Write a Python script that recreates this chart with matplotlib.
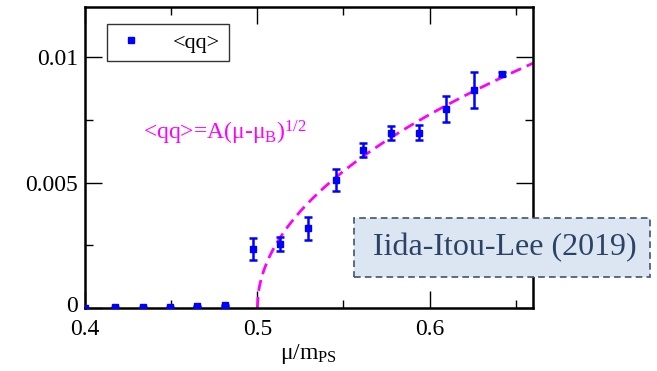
import numpy as np
import matplotlib
matplotlib.use('Agg')
import matplotlib.pyplot as plt
import matplotlib.transforms as mtransforms
from matplotlib.lines import Line2D
from matplotlib.patches import Rectangle

plt.rcParams['font.family'] = ['Liberation Serif', 'DejaVu Serif']
plt.rcParams['mathtext.fontset'] = 'custom'
plt.rcParams['mathtext.rm'] = 'Liberation Serif'
plt.rcParams['mathtext.it'] = 'Liberation Serif'

# data
mu = [0.400, 0.4174, 0.4334, 0.4493, 0.4651, 0.4812, 0.4972, 0.5130,
      0.5294, 0.5455, 0.5613, 0.5774, 0.5936, 0.6097, 0.6257, 0.6419]
qq = [0.0, 0.00003, 0.00003, 0.00003, 0.00007, 0.0001, 0.00235, 0.00256,
      0.00318, 0.0051, 0.00631, 0.00698, 0.00698, 0.00793, 0.00871, 0.00935]
qq_err = [0.00002, 0.00002, 0.00002, 0.00002, 0.00002, 0.00002, 0.00043, 0.00028,
          0.00045, 0.00045, 0.00027, 0.00027, 0.0003, 0.00052, 0.00072, 0.00008]

# fit <qq> = A (mu - mu_B)^(1/2)
A = 0.0244
mu_B = 0.5
mu_fit = np.linspace(mu_B, 0.66, 300)
qq_fit = A * np.sqrt(mu_fit - mu_B)

fig = plt.figure(figsize=(6.57, 3.71), dpi=100)
ax = fig.add_axes([0.1294, 0.1698, 0.6819, 0.8112])

ax.plot(mu_fit, qq_fit, color='#ff00ff', lw=2.0, dashes=(4, 2.2), zorder=2)
ax.errorbar(mu, qq, yerr=qq_err, fmt='s', color='#0000ff', ms=5, elinewidth=1.8,
            capsize=3, capthick=1.8, zorder=3)

ax.set_xlim(0.4, 0.66)
ax.set_ylim(0, 0.012)
ax.set_xticks([0.4, 0.5, 0.6])
ax.set_xticklabels(['0.4', '0.5', '0.6'])
ax.set_xticks([0.45, 0.55, 0.65], minor=True)
ax.set_yticks([0, 0.005, 0.01])
ax.set_yticklabels(['0', '0.005', '0.01'])
ax.set_yticks([0.0025, 0.0075], minor=True)
ax.tick_params(which='both', direction='in', top=True, right=True, labelsize=17, width=1)
ax.tick_params(which='major', length=12)
ax.tick_params(axis='y', which='major', pad=5)
ax.tick_params(axis='x', which='major', pad=8)
ax.tick_params(which='minor', length=6)
for s in ax.spines.values():
    s.set_linewidth(1.8)

# nudge the "0" label up a little so it clears "0.4"
lab0 = ax.get_yticklabels()[0]
lab0.set_transform(lab0.get_transform() + mtransforms.ScaledTranslation(0, 3 / 72, fig.dpi_scale_trans))

ax.set_xlabel(r'μ/m$_\mathrm{PS}$', fontsize=17, labelpad=1)

ax.text(0.4336, 0.0067, r'<qq>=A(μ-μ$_\mathrm{B}$)$^\mathrm{1/2}$', color='#ff00ff',
        fontsize=17, va='baseline')

handle = Line2D([], [], marker='s', ls='none', color='#0000ff', ms=4)
leg = ax.legend([handle], ['<qq>'], loc='upper left', bbox_to_anchor=(0.049, 0.9435),
                fontsize=16, frameon=True, fancybox=False, handlelength=1.4,
                handletextpad=1.2, borderpad=0.38, borderaxespad=0)
leg.get_frame().set_edgecolor('black')
leg.get_frame().set_linewidth(1.0)

fig.patches.append(Rectangle((0.5388, 0.2534), 0.4505, 0.159, transform=fig.transFigure,
                             facecolor='#dce6f2', edgecolor='#3e5572', lw=1.2,
                             linestyle=(0, (4, 2.5)), zorder=5))
fig.text(0.7686, 0.333, 'Iida-Itou-Lee (2019)', fontsize=23, color='#2b4466',
         ha='center', va='center', zorder=6)

fig.savefig('out.png', dpi=100)
